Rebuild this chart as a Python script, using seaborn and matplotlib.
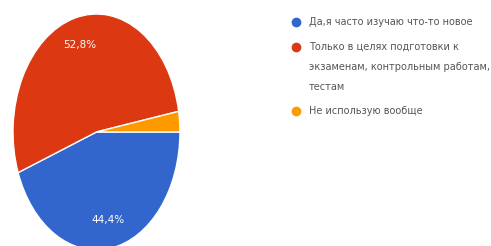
import matplotlib
matplotlib.use("Agg")
import matplotlib.pyplot as plt
from matplotlib.lines import Line2D
import seaborn as sns

answers = ["Да,я часто изучаю что-то новое",
           "Только в целях подготовки к\nэкзаменам, контрольным работам,\nтестам",
           "Не использую вообще"]
shares = [44.4, 52.8, 2.8]
colors = ["#3366cc", "#dc3912", "#ff9900"]

sns.set_theme(style="white")
plt.rcParams['font.family'] = ['DejaVu Sans']

W, H = 491, 246
fig = plt.figure(figsize=(W / 100, H / 100), dpi=100)
ax = fig.add_axes([0.0265, -0.016, 0.340, 0.959])

def fmt(p):
    if p < 5:
        return ""
    return f"{p:.1f}%".replace(".", ",")

wedges, texts, autotexts = ax.pie(shares, colors=colors, startangle=0, counterclock=False,
                                  autopct=fmt, pctdistance=0.76,
                                  wedgeprops=dict(edgecolor="white", linewidth=1),
                                  textprops=dict(color="white", fontsize=7.5))
ax.set_aspect("auto")
ax.set_xlim(-1, 1)
ax.set_ylim(-1, 1)
ax.axis("off")

# legend drawn by hand so the dot sits on the first line of a wrapped label
y = 22
for label, c in zip(answers, colors):
    fig.add_artist(Line2D([296 / W], [1 - y / H], marker="o", linestyle="", markersize=6,
                          markerfacecolor=c, markeredgecolor=c, transform=fig.transFigure))
    for i, line in enumerate(label.split("\n")):
        fig.text(309 / W, 1 - (y + i * 20) / H, line, fontsize=7, color="#555555",
                 va="center", ha="left")
    y += 20 * (len(label.split("\n")) - 1) + 24.5

fig.savefig("out.png", dpi=100)
